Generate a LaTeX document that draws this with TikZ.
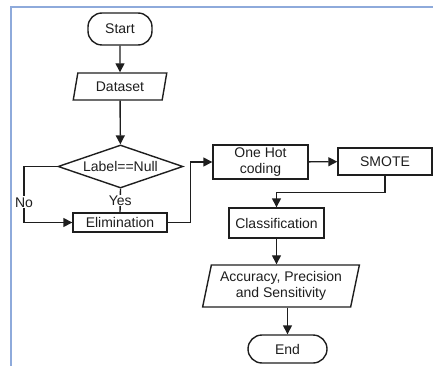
\documentclass[tikz,border=0pt]{standalone}
\usepackage{fontspec}
\setmainfont{Liberation Sans}
\usepackage{tikz}
\usetikzlibrary{arrows.meta, positioning, shapes.geometric}
\definecolor{fblue}{HTML}{8EAADB}
\definecolor{fink}{HTML}{1E1E1E}

\begin{document}
\begin{tikzpicture}[x=1pt, y=-1pt,
  every node/.style={font=\fontsize{14}{15.5}\selectfont, text=fink},
  term/.style={draw=fink, line width=1.4pt, rounded corners=14pt, inner sep=0pt},
  proc/.style={draw=fink, line width=1.4pt, inner sep=0pt, align=center},
  io/.style={draw=fink, line width=1.4pt, trapezium, trapezium left angle=75,
    trapezium right angle=105, trapezium stretches=true, inner sep=0pt, align=center},
  test/.style={draw=fink, line width=1.4pt, diamond, aspect=3.2, inner sep=0pt},
  flow/.style={draw=fink, line width=1.4pt, -{Triangle[length=9pt,width=9pt]}},
  link/.style={draw=fink, line width=1.4pt},
  lbl/.style={fill=white, inner sep=1pt}]
\useasboundingbox (0,0) rectangle (433,366);
% frame
\draw[fblue, line width=2pt] (433,7) -- (11,7) -- (11,366);
% left column
\node[term, minimum width=64, minimum height=32] (start) at (120,29) {Start};
\node[io, minimum width=94, minimum height=27] (dataset) at (120,86.5) {Dataset};
\node[test, minimum width=125, minimum height=43] (check) at (120.5,166.5) {Label==Null};
\node[proc, minimum width=94, minimum height=19] (elim) at (120,222.5) {Elimination};
% right part
\node[proc, minimum width=95, minimum height=34] (onehot) at (260.5,162) {One Hot\\coding};
\node[proc, minimum width=94, minimum height=27] (smote) at (385,161.5) {SMOTE};
\node[proc, minimum width=95, minimum height=30] (classif) at (276.5,223) {Classification};
\node[io, minimum width=157, minimum height=42] (accuracy) at (281,286) {Accuracy, Precision\\and Sensitivity};
\node[term, minimum width=79, minimum height=28] (stop) at (287.5,349) {End};
\coordinate (noturn) at (24,166.5);
% connectors
\draw[flow] (start) -- (dataset);
\draw[flow] (dataset) -- (check);
\draw[flow] (check.west) -- (noturn) |- node[lbl, pos=0.32] {No} (elim.west);
\draw[link] (check.south) -- node[lbl] {Yes} (elim.north);
\draw[flow] (elim.east) -- ++(23,0) |- (onehot.west);
\draw[flow] (onehot) -- (smote);
\draw[flow] (smote.south) -- ++(0,17) -| (classif.north);
\draw[flow] (classif.south) -- (classif.south |- accuracy.north);
\draw[flow] (stop |- accuracy.south) -- (stop.north);
\end{tikzpicture}
\end{document}
